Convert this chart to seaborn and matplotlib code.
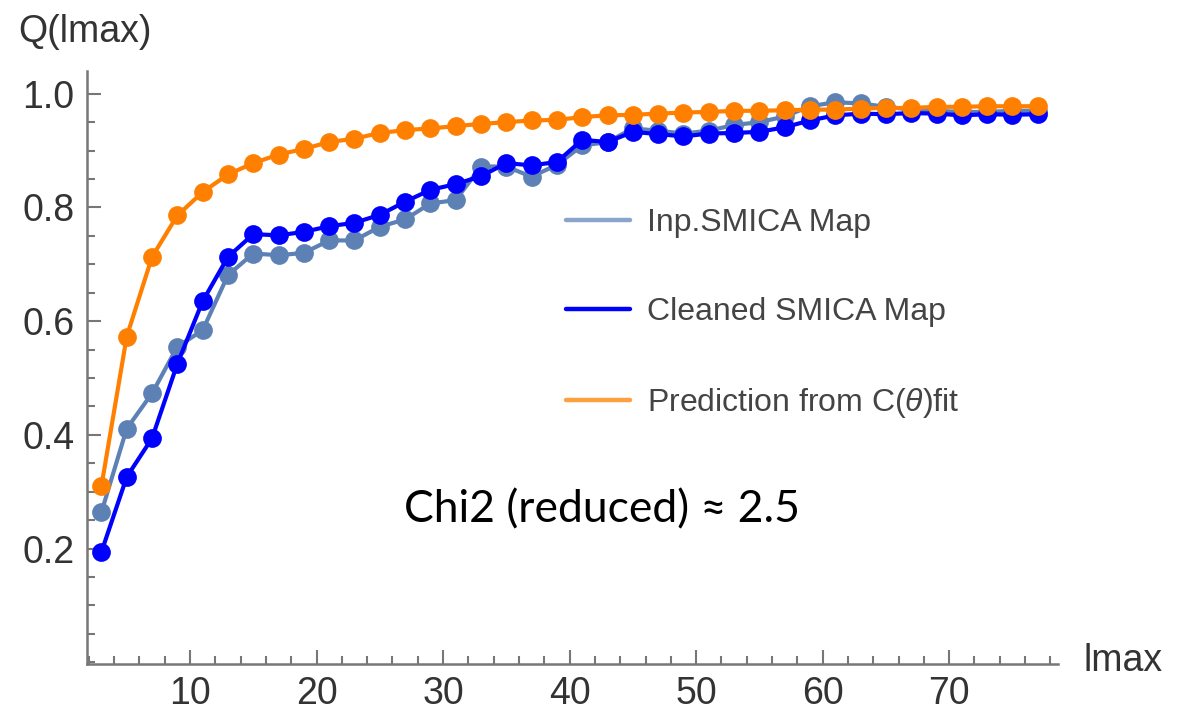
import numpy as np
import matplotlib
matplotlib.use("Agg")
import matplotlib.pyplot as plt
import seaborn as sns
from matplotlib.lines import Line2D
from matplotlib.ticker import MultipleLocator

# datos
lmax = list(range(3, 78, 2))

q_inp = [0.264, 0.411, 0.473, 0.555, 0.584, 0.681, 0.719, 0.716, 0.720, 0.742,
         0.742, 0.766, 0.779, 0.807, 0.813, 0.872, 0.872, 0.854, 0.875, 0.909,
         0.915, 0.939, 0.935, 0.930, 0.935, 0.945, 0.950, 0.960, 0.978, 0.985,
         0.983, 0.977, 0.972, 0.970, 0.968, 0.968, 0.970, 0.970]

q_clean = [0.194, 0.326, 0.394, 0.525, 0.635, 0.713, 0.753, 0.751, 0.757, 0.767,
           0.773, 0.787, 0.810, 0.831, 0.841, 0.855, 0.878, 0.874, 0.880, 0.919,
           0.915, 0.933, 0.929, 0.925, 0.930, 0.931, 0.933, 0.941, 0.953, 0.962,
           0.965, 0.964, 0.966, 0.965, 0.962, 0.964, 0.963, 0.964]

q_pred = [0.310, 0.573, 0.713, 0.786, 0.827, 0.858, 0.878, 0.893, 0.903, 0.915,
          0.921, 0.931, 0.936, 0.939, 0.943, 0.947, 0.950, 0.953, 0.954, 0.959,
          0.962, 0.963, 0.965, 0.967, 0.968, 0.970, 0.970, 0.971, 0.972, 0.972,
          0.974, 0.975, 0.975, 0.977, 0.977, 0.978, 0.978, 0.978]

labels = ["Inp.SMICA Map", "Cleaned SMICA Map", r"Prediction from C($\theta$)fit"]
colors = ["#5E81B5", "#0000FF", "#FF8000"]
legend_colors = ["#8BA4CB", "#0000FF", "#FFA040"]

sns.set_style("white")
plt.rcParams["font.family"] = ["Liberation Sans", "DejaVu Sans"]
plt.rcParams["mathtext.fontset"] = "custom"
plt.rcParams["mathtext.it"] = "Liberation Sans:italic"
plt.rcParams["mathtext.rm"] = "Liberation Sans"

fig = plt.figure(figsize=(11.91, 7.16), dpi=100)
W, H = 1191, 716
ax = fig.add_axes([87 / W, (H - 664) / H, (1058 - 87) / W, (664 - 71) / H])

for serie, c in zip([q_inp, q_clean, q_pred], colors):
    sns.lineplot(x=lmax, y=serie, ax=ax, color=c, linewidth=3.0, marker="o",
                 markersize=13.5, markeredgewidth=0, markerfacecolor=c,
                 clip_on=False)

ax.set_xlim(1.86, 78.6)
ax.set_ylim(-0.003, 1.04)

for s in ["top", "right"]:
    ax.spines[s].set_visible(False)
for s in ["left", "bottom"]:
    ax.spines[s].set_color("#777777")
    ax.spines[s].set_linewidth(1.8)

ax.xaxis.set_minor_locator(MultipleLocator(2))
ax.yaxis.set_minor_locator(MultipleLocator(0.05))
ax.set_xticks([10, 20, 30, 40, 50, 60, 70])
ax.set_yticks([0.2, 0.4, 0.6, 0.8, 1.0])
ax.set_yticklabels(["0.2", "0.4", "0.6", "0.8", "1.0"])
ax.tick_params(which="major", direction="in", length=10, width=1.5,
               color="#777777", labelsize=27, labelcolor="#333333", pad=9)
ax.tick_params(which="minor", direction="in", length=6, width=1.5,
               color="#777777")
ax.tick_params(axis="x", which="both", bottom=True)
ax.tick_params(axis="y", which="both", left=True)

fig.text(18 / W, 1 - 32 / H, "Q(lmax)", fontsize=27, color="#333333",
         va="center", ha="left")
fig.text(1083 / W, 1 - 661 / H, "lmax", fontsize=27, color="#333333",
         va="center", ha="left")

handles = [Line2D([], [], color=c, linewidth=3.2) for c in legend_colors]
leg = ax.legend(handles, labels, loc="upper left",
                bbox_to_anchor=(566 / W, 1 - 208 / H),
                bbox_transform=fig.transFigure, frameon=False,
                fontsize=23, handlelength=2.0, handletextpad=0.55,
                labelspacing=1.85, borderpad=0, borderaxespad=0)
for t in leg.get_texts():
    t.set_color("#444444")

fig.text(602 / W, 1 - 510 / H, "Chi2 (reduced) \u2248 2.5", fontsize=32,
         family=["Lato", "DejaVu Sans"], color="black",
         ha="center", va="center")

fig.savefig("out.png", dpi=100)
